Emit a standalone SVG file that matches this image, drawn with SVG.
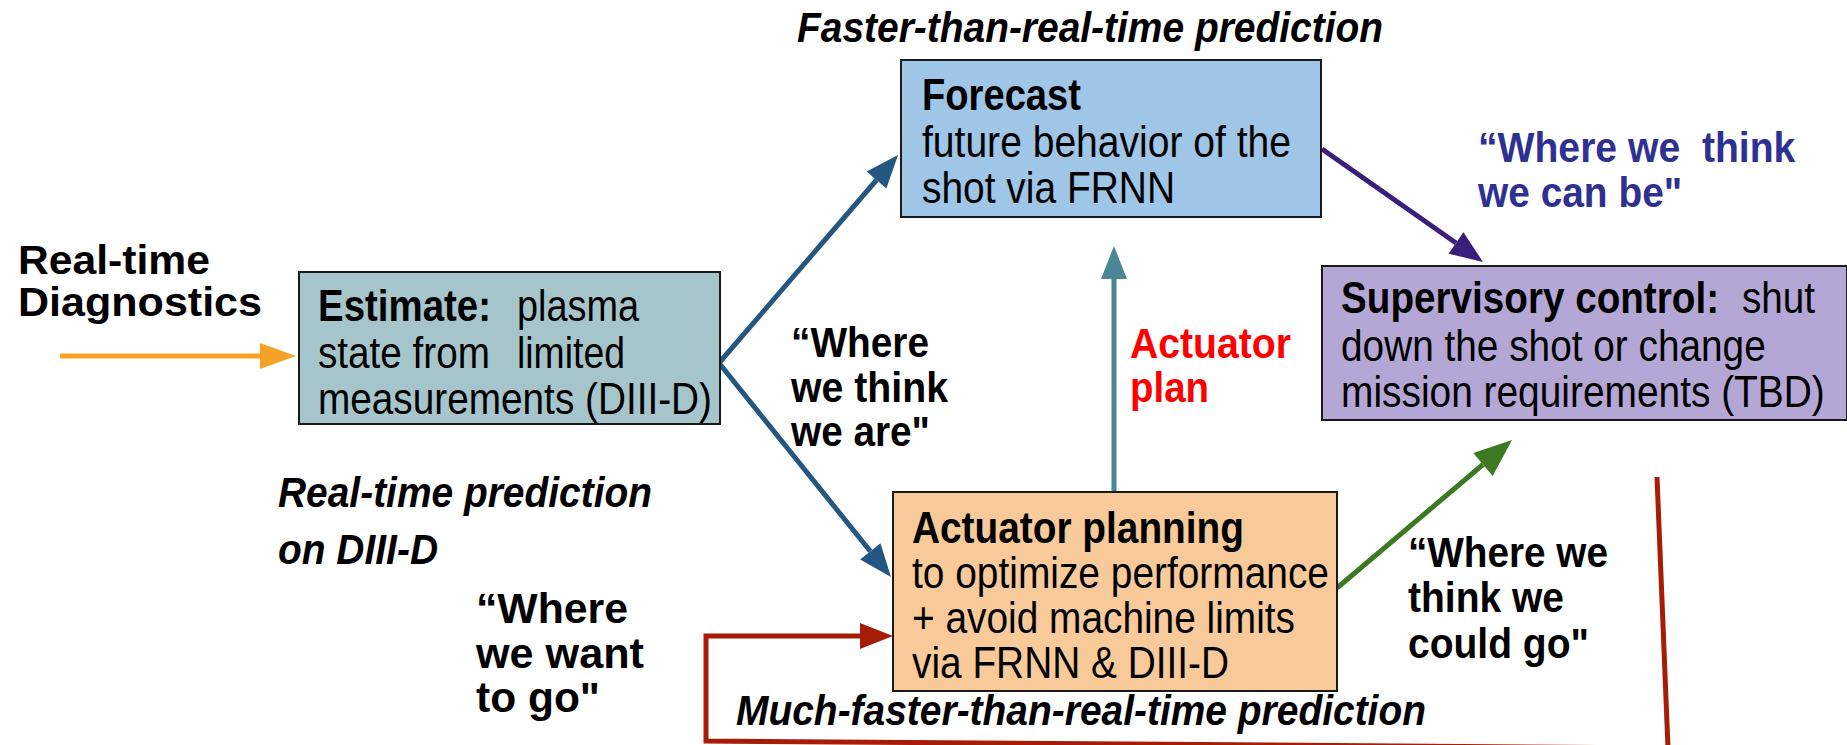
<svg xmlns="http://www.w3.org/2000/svg" width="1847" height="745" viewBox="0 0 1847 745">
<style>
.box{stroke:#1a1a1a;stroke-width:2}
.t{font-family:"Liberation Sans Narrow","Liberation Sans",Arial,sans-serif;fill:#000}
.body{font-size:44px}
.b{font-weight:bold}
.lbl{font-size:43px;font-weight:bold}
.hd{font-size:43px;font-weight:bold;font-style:italic}
.conn{fill:none;stroke-width:5}
</style>
<defs>
<marker id="m-orange" markerUnits="userSpaceOnUse" markerWidth="40" markerHeight="30" refX="0" refY="0" orient="auto" overflow="visible"><path d="M0,-13 L36,0 L0,13 z" fill="#F8A128"/></marker>
<marker id="m-blue" markerUnits="userSpaceOnUse" markerWidth="40" markerHeight="30" refX="0" refY="0" orient="auto" overflow="visible"><path d="M0,-13 L33,0 L0,13 z" fill="#235782"/></marker>
<marker id="m-purple" markerUnits="userSpaceOnUse" markerWidth="40" markerHeight="30" refX="0" refY="0" orient="auto" overflow="visible"><path d="M0,-13 L33,0 L0,13 z" fill="#3A1E7C"/></marker>
<marker id="m-teal" markerUnits="userSpaceOnUse" markerWidth="40" markerHeight="30" refX="0" refY="0" orient="auto" overflow="visible"><path d="M0,-13 L33,0 L0,13 z" fill="#4A8694"/></marker>
<marker id="m-green" markerUnits="userSpaceOnUse" markerWidth="40" markerHeight="34" refX="0" refY="0" orient="auto" overflow="visible"><path d="M0,-15 L38,0 L0,15 z" fill="#3B7A20"/></marker>
<marker id="m-red" markerUnits="userSpaceOnUse" markerWidth="40" markerHeight="30" refX="0" refY="0" orient="auto" overflow="visible"><path d="M0,-13 L33,0 L0,13 z" fill="#A61C06"/></marker>
</defs>
<rect width="1847" height="745" fill="#ffffff"/>

<g id="connectors">
<path class="conn" stroke="#F8A128" d="M60,356 L260,356" marker-end="url(#m-orange)"/>
<path class="conn" stroke="#235782" d="M719,363 L876.5,180" marker-end="url(#m-blue)"/>
<path class="conn" stroke="#235782" d="M719,363 L870.3,551.3" marker-end="url(#m-blue)"/>
<path class="conn" stroke="#3A1E7C" d="M1322,149 L1456,243" marker-end="url(#m-purple)"/>
<path class="conn" stroke="#4A8694" d="M1114,492 L1114,279" marker-end="url(#m-teal)"/>
<path class="conn" stroke="#3B7A20" d="M1337,588 L1483,464.5" marker-end="url(#m-green)"/>
<path class="conn" stroke="#A61C06" stroke-width="6" stroke-linejoin="miter" d="M1657,477 L1668,748 L706,741 L706,636 L860,636" marker-end="url(#m-red)"/>
</g>

<g id="label-diagnostics">
<text class="t b" font-size="40"><tspan x="18" y="274" textLength="192" lengthAdjust="spacingAndGlyphs">Real-time</tspan><tspan x="18" y="316" textLength="244" lengthAdjust="spacingAndGlyphs">Diagnostics</tspan></text>
</g>

<g id="node-estimate">
<rect class="box" x="299" y="272" width="421" height="152" fill="#A5C5CA"/>
<text class="t body"><tspan class="b" x="318" y="321" textLength="173" lengthAdjust="spacingAndGlyphs">Estimate:</tspan><tspan x="517" y="321" textLength="122" lengthAdjust="spacingAndGlyphs">plasma</tspan><tspan x="318" y="368" textLength="172" lengthAdjust="spacingAndGlyphs">state from</tspan><tspan x="517" y="368" textLength="108" lengthAdjust="spacingAndGlyphs">limited</tspan><tspan x="318" y="414" textLength="394" lengthAdjust="spacingAndGlyphs">measurements (DIII-D)</tspan></text>
</g>

<g id="node-forecast">
<rect class="box" x="901" y="60" width="420" height="157" fill="#9FC5E7"/>
<text class="t body"><tspan class="b" x="922" y="110" textLength="159" lengthAdjust="spacingAndGlyphs">Forecast</tspan><tspan x="922" y="157" textLength="369" lengthAdjust="spacingAndGlyphs">future behavior of the</tspan><tspan x="922" y="203" textLength="253" lengthAdjust="spacingAndGlyphs">shot via FRNN</tspan></text>
</g>

<g id="node-actuator">
<rect class="box" x="893" y="492" width="444" height="199" fill="#F8CA9A"/>
<text class="t body"><tspan class="b" x="912" y="543" textLength="332" lengthAdjust="spacingAndGlyphs">Actuator planning</tspan><tspan x="912" y="588" textLength="417" lengthAdjust="spacingAndGlyphs">to optimize performance</tspan><tspan x="912" y="633" textLength="383" lengthAdjust="spacingAndGlyphs">+ avoid machine limits</tspan><tspan x="912" y="678" textLength="317" lengthAdjust="spacingAndGlyphs">via FRNN &amp; DIII-D</tspan></text>
</g>

<g id="node-supervisory">
<rect class="box" x="1322" y="266" width="525" height="154" fill="#B4A7D6"/>
<text class="t body" transform="translate(1341,313) scale(0.82,1)"><tspan class="b" x="0" y="0" textLength="461" lengthAdjust="spacingAndGlyphs">Supervisory control:</tspan><tspan x="489" y="0" textLength="89" lengthAdjust="spacingAndGlyphs">shut</tspan><tspan x="0" y="48" textLength="518" lengthAdjust="spacingAndGlyphs">down the shot or change</tspan><tspan x="0" y="94" textLength="590" lengthAdjust="spacingAndGlyphs">mission requirements (TBD)</tspan></text>
</g>

<g id="heading-faster">
<text class="t hd" x="797" y="42" textLength="586" lengthAdjust="spacingAndGlyphs">Faster-than-real-time prediction</text>
</g>
<g id="heading-muchfaster">
<text class="t hd" x="736" y="725" textLength="690" lengthAdjust="spacingAndGlyphs">Much-faster-than-real-time prediction</text>
</g>
<g id="heading-realtime">
<text class="t hd"><tspan x="278" y="507" textLength="374" lengthAdjust="spacingAndGlyphs">Real-time prediction</tspan><tspan x="278" y="564" textLength="160" lengthAdjust="spacingAndGlyphs">on DIII-D</tspan></text>
</g>

<g id="label-are">
<text class="t lbl"><tspan x="791" y="357" textLength="138" lengthAdjust="spacingAndGlyphs">“Where</tspan><tspan x="791" y="402" textLength="157" lengthAdjust="spacingAndGlyphs">we think</tspan><tspan x="791" y="446" textLength="139" lengthAdjust="spacingAndGlyphs">we are"</tspan></text>
</g>

<g id="label-actuator-plan">
<text class="t lbl" style="fill:#FF0000"><tspan x="1130" y="358" textLength="161" lengthAdjust="spacingAndGlyphs">Actuator</tspan><tspan x="1130" y="402" textLength="79" lengthAdjust="spacingAndGlyphs">plan</tspan></text>
</g>

<g id="label-canbe">
<text class="t lbl" style="fill:#2E3192" transform="translate(1478,162) scale(0.82,1)" xml:space="preserve"><tspan x="0" y="0" textLength="387" lengthAdjust="spacingAndGlyphs">“Where we  think</tspan><tspan x="0" y="45" textLength="249" lengthAdjust="spacingAndGlyphs">we can be"</tspan></text>
</g>

<g id="label-want">
<text class="t lbl"><tspan x="476" y="623" textLength="152" lengthAdjust="spacingAndGlyphs">“Where</tspan><tspan x="476" y="668" textLength="168" lengthAdjust="spacingAndGlyphs">we want</tspan><tspan x="476" y="712" textLength="124" lengthAdjust="spacingAndGlyphs">to go"</tspan></text>
</g>

<g id="label-could">
<text class="t lbl"><tspan x="1408" y="567" textLength="200" lengthAdjust="spacingAndGlyphs">“Where we</tspan><tspan x="1408" y="612" textLength="156" lengthAdjust="spacingAndGlyphs">think we</tspan><tspan x="1408" y="658" textLength="181" lengthAdjust="spacingAndGlyphs">could go"</tspan></text>
</g>
</svg>
